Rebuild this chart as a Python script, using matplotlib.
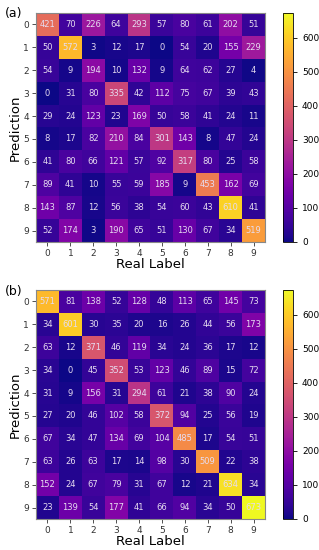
import matplotlib
matplotlib.use("Agg")
import matplotlib.pyplot as plt
import numpy as np

# --- confusion matrices (rows = prediction, cols = real label) ---
labels = [str(i) for i in range(10)]

cm_a = np.array([
    [421, 70, 226, 64, 293, 57, 80, 61, 202, 51],
    [50, 572, 3, 12, 17, 0, 54, 20, 155, 229],
    [54, 9, 194, 10, 132, 9, 64, 62, 27, 4],
    [0, 31, 80, 335, 42, 112, 75, 67, 39, 43],
    [29, 24, 123, 23, 169, 50, 58, 41, 24, 11],
    [8, 17, 82, 210, 84, 301, 143, 8, 47, 24],
    [41, 80, 66, 121, 57, 92, 317, 80, 25, 58],
    [89, 41, 10, 55, 59, 185, 9, 453, 162, 69],
    [143, 87, 12, 56, 38, 54, 60, 43, 610, 41],
    [52, 174, 3, 190, 65, 51, 130, 67, 34, 519],
])

cm_b = np.array([
    [571, 81, 138, 52, 128, 48, 113, 65, 145, 73],
    [34, 601, 30, 35, 20, 16, 26, 44, 56, 173],
    [63, 12, 371, 46, 119, 34, 24, 36, 17, 12],
    [34, 0, 45, 352, 53, 123, 46, 89, 15, 72],
    [31, 9, 156, 31, 294, 61, 21, 38, 90, 24],
    [27, 20, 46, 102, 58, 372, 94, 25, 56, 19],
    [67, 34, 47, 134, 69, 104, 485, 17, 54, 51],
    [63, 26, 63, 17, 14, 98, 30, 509, 22, 38],
    [152, 24, 67, 79, 31, 67, 12, 21, 634, 34],
    [23, 139, 54, 177, 41, 66, 94, 34, 50, 673],
])

panels = [("(a)", cm_a), ("(b)", cm_b)]
VMAX = max(cm_a.max(), cm_b.max())

W, H = 319, 550
fig = plt.figure(figsize=(W / 100, H / 100), dpi=100)

# pixel boxes: (left, top) of heatmap; size 229x229
tops = [13, 290]
for (tag, cm), top in zip(panels, tops):
    ax = fig.add_axes([36 / W, 1 - (top + 229) / H, 229 / W, 229 / H])
    im = ax.imshow(cm, cmap="plasma", vmin=0, vmax=VMAX, aspect="auto")
    for i in range(10):
        for j in range(10):
            ax.text(j, i, str(cm[i, j]), ha="center", va="center",
                    fontsize=6, color="#e6dcf0")
    ax.set_xticks(range(10))
    ax.set_yticks(range(10))
    ax.set_xticklabels(labels, fontsize=6.5, color="#333333")
    ax.set_yticklabels(labels, fontsize=6.5, color="#333333")
    ax.tick_params(length=3, width=0.6, colors="#333333", pad=2)
    for s in ax.spines.values():
        s.set_color("#888888")
        s.set_linewidth(0.8)
    ax.set_xlabel("Real Label", fontsize=9.5, labelpad=0)
    ax.set_ylabel("Prediction", fontsize=9.5, labelpad=1)
    fig.text(5 / W, 1 - (top + 1) / H, tag, fontsize=9, ha="left", va="center")

    cax = fig.add_axes([283 / W, 1 - (top + 229) / H, 10 / W, 229 / H])
    cb = fig.colorbar(im, cax=cax, ticks=range(0, 700, 100))
    cb.ax.tick_params(labelsize=6.5, length=3, width=0.6)
    cb.outline.set_linewidth(0.6)

fig.savefig("out.png", dpi=100)
